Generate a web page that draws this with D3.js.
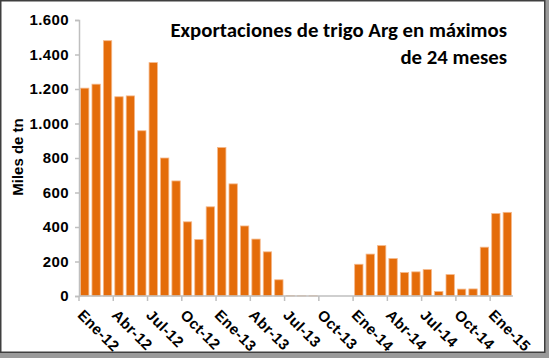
<!DOCTYPE html>
<html>
<head>
<meta charset="utf-8">
<script src="https://cdn.jsdelivr.net/npm/d3@7"></script>
<style>
  html, body { margin: 0; padding: 0; background: #9a9a9a; }
  svg { display: block; }
  .axis text { font-family: "Liberation Sans", Arial, sans-serif; font-weight: bold; font-size: 15px; letter-spacing: 0.4px; fill: #000; }
</style>
</head>
<body>
<div id="chart"></div>
<script>
// monthly exports, thousand tonnes, Jan-2012 .. Feb-2015
var months = ["Ene","Feb","Mar","Abr","May","Jun","Jul","Ago","Sep","Oct","Nov","Dic"];
var years = ["12","13","14","15"];
var values = [
  1205, 1228, 1480, 1155, 1160, 958, 1353, 800, 667, 430, 328, 517,
  861, 650, 406, 330, 256, 94, 2, 1, 1, 0, 0, 0,
  184, 243, 292, 217, 136, 140, 153, 26, 124, 40, 41, 283,
  478, 485
];
var yTicks = [0, 200, 400, 600, 800, 1000, 1200, 1400, 1600];
var titleLines = ["Exportaciones de trigo Arg en máximos", "de 24 meses"];
var yTitle = "Miles de tn";

var categories = values.map(function(d, i) {
  return months[i % 12] + "-" + years[Math.floor(i / 12)];
});

var width = 549,
    height = 358,
    margins = { top: 20, right: 36, bottom: 62, left: 79 };

var svg = d3.select('#chart').append('svg')
  .attr('width', width)
  .attr('height', height);

// frame
svg.append('rect')
  .attr('x', 0.75).attr('y', 0.75)
  .attr('width', 544).attr('height', 351.5)
  .attr('fill', '#fff')
  .attr('stroke', '#3f3f3f')
  .attr('stroke-width', 1.5);

var xScale = d3.scaleBand()
  .domain(categories)
  .range([margins.left, width - margins.right])
  .paddingInner(0.27)
  .paddingOuter(0.135);

var yScale = d3.scaleLinear()
  .domain([0, 1600])
  .range([height - margins.bottom, margins.top]);

var fmt = d3.formatLocale({ decimal: ",", thousands: ".", grouping: [3], currency: ["$", ""] }).format(",");

var half = (xScale.step() - xScale.bandwidth()) / 2;

// bars
svg.append('g').selectAll('rect')
  .data(values)
  .enter().append('rect')
  .attr('x', function(d, i) { return xScale(categories[i]); })
  .attr('y', function(d) { return yScale(d); })
  .attr('width', xScale.bandwidth())
  .attr('height', function(d) { return yScale(0) - yScale(d); })
  .attr('fill', '#e46c0a')
  .attr('stroke', '#f5b88a')
  .attr('stroke-width', 0.8);

// y axis
var yAxis = d3.axisLeft(yScale)
  .tickValues(yTicks)
  .tickFormat(fmt)
  .tickSize(4)
  .tickPadding(6);

var gy = svg.append('g')
  .attr('class', 'axis')
  .attr('transform', 'translate(' + margins.left + ',0)')
  .call(yAxis);
gy.select('.domain').attr('stroke', '#bfbfbf').attr('stroke-width', 1.5);
gy.selectAll('.tick line').attr('stroke', '#bfbfbf').attr('stroke-width', 1.5);

// x axis: labels every 3 months
var xAxis = d3.axisBottom(xScale)
  .tickValues(categories.filter(function(d, i) { return i % 3 == 0; }))
  .tickSize(0)
  .tickSizeOuter(0);

var gx = svg.append('g')
  .attr('class', 'axis')
  .attr('transform', 'translate(0,' + yScale(0) + ')')
  .call(xAxis);
gx.select('.domain').remove();
gx.selectAll('.tick text')
  .attr('y', 0).attr('dy', 0)
  .attr('text-anchor', 'start')
  .attr('transform', 'translate(-8,20) rotate(45)');

// baseline and boundary ticks
svg.append('line')
  .attr('x1', margins.left).attr('x2', width - margins.right)
  .attr('y1', yScale(0)).attr('y2', yScale(0))
  .attr('stroke', '#bfbfbf').attr('stroke-width', 1.5);

svg.append('g').selectAll('line')
  .data(categories.filter(function(d, i) { return i % 3 == 0; }))
  .enter().append('line')
  .attr('x1', function(d) { return xScale(d) - half; })
  .attr('x2', function(d) { return xScale(d) - half; })
  .attr('y1', yScale(0)).attr('y2', yScale(0) + 5)
  .attr('stroke', '#bfbfbf').attr('stroke-width', 1.5);

// y title
svg.append('text')
  .attr('transform', 'translate(23,' + 157 + ') rotate(-90)')
  .attr('text-anchor', 'middle')
  .style('font-family', '"Liberation Sans", Arial, sans-serif')
  .style('font-weight', 'bold')
  .style('font-size', '15px')
  .text(yTitle);

// chart title
svg.append('g').selectAll('text')
  .data(titleLines)
  .enter().append('text')
  .attr('x', 507)
  .attr('y', function(d, i) { return 37 + i * 27; })
  .attr('text-anchor', 'end')
  .style('font-family', 'Carlito, Lato, sans-serif')
  .style('font-weight', 'bold')
  .style('font-size', '20.8px')
  .text(function(d) { return d; });
</script>
</body>
</html>
